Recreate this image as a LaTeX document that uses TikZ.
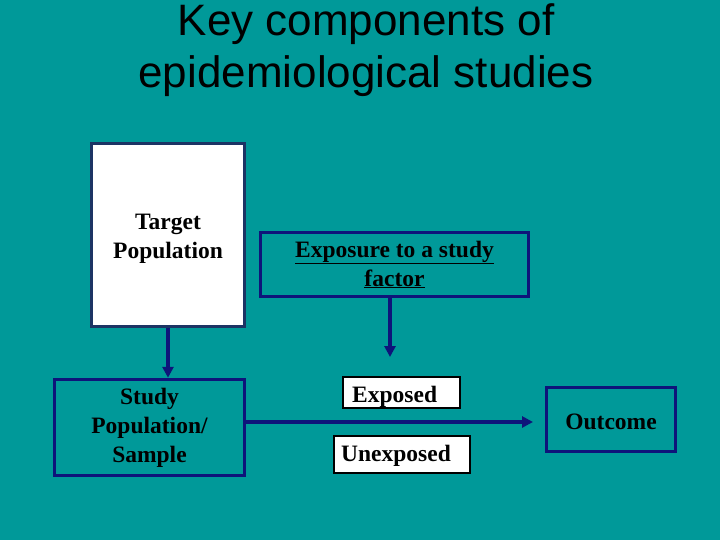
\documentclass[tikz,border=0pt]{standalone}
\usepackage{fontspec}
\setmainfont{Liberation Serif}
\newfontfamily\titlefont{Liberation Sans}
\usetikzlibrary{arrows.meta}
\definecolor{bgteal}{RGB}{0,153,153}
\definecolor{navybox}{RGB}{14,20,122}
\definecolor{darkbox}{RGB}{28,52,100}
\begin{document}
\begin{tikzpicture}[x=1pt,y=-1pt,
  boxfont/.style={font=\fontsize{23.5}{29}\selectfont\bfseries},
  navyrect/.style={draw=navybox, line width=3.5pt, fill=bgteal, inner sep=0pt, align=center, boxfont, text=black},
  whiterect/.style={draw=black, line width=2pt, fill=white, inner sep=0pt},
  arr/.style={draw=navybox, line width=3.5pt, -{Triangle[length=11pt,width=11pt]}},
  titletext/.style={font=\titlefont\fontsize{44}{51}\selectfont, text=black, anchor=base, inner sep=0pt}]
\fill[bgteal] (0,0) rectangle (720,540);
\useasboundingbox (0,0) rectangle (720,540);
% title
\node[titletext] (t1) at (366,36) {Key components of};
\node[titletext] (t2) at (366,88) {epidemiological studies};
% boxes
\node[draw=darkbox, line width=3.5pt, fill=white, inner sep=0pt, align=center, boxfont,
      minimum width=153pt, minimum height=183pt, text depth=0pt] (target) at (168,235) {};
\node[boxfont, align=center, inner sep=0pt] (targettxt) at (168,239) {Target\\Population};
\node[navyrect, minimum width=190pt, minimum height=96pt] (study) at (149.5,427.5) {Study\\Population/\\Sample};
\node[navyrect, minimum width=268pt, minimum height=64pt] (expo) at (394.5,264.5) {\underline{Exposure to a study}\\\underline{factor}};
\node[navyrect, minimum width=129pt, minimum height=64pt] (outcome) at (611,419.5) {};
\node[boxfont, anchor=base, inner sep=0pt] (outcometxt) at (611,429) {Outcome};
\node[whiterect, minimum width=117pt, minimum height=31pt] (exposed) at (401.5,392.5) {};
\node[whiterect, minimum width=136pt, minimum height=37pt] (unexposed) at (402,454.5) {};
\node[boxfont, anchor=base west, inner sep=0pt] (exposedtxt) at (352,402) {Exposed};
\node[boxfont, anchor=base west, inner sep=0pt] (unexposedtxt) at (341,461) {Unexposed};
% connectors
\coordinate (expend) at (390,357);
\coordinate (outend) at (533,422);
\draw[arr] (target.south) -- (target.south |- study.north);
\draw[arr] (expo.south -| expend) -- (expend);
\draw[arr] (study.east |- outend) -- (outend);
\end{tikzpicture}
\end{document}
